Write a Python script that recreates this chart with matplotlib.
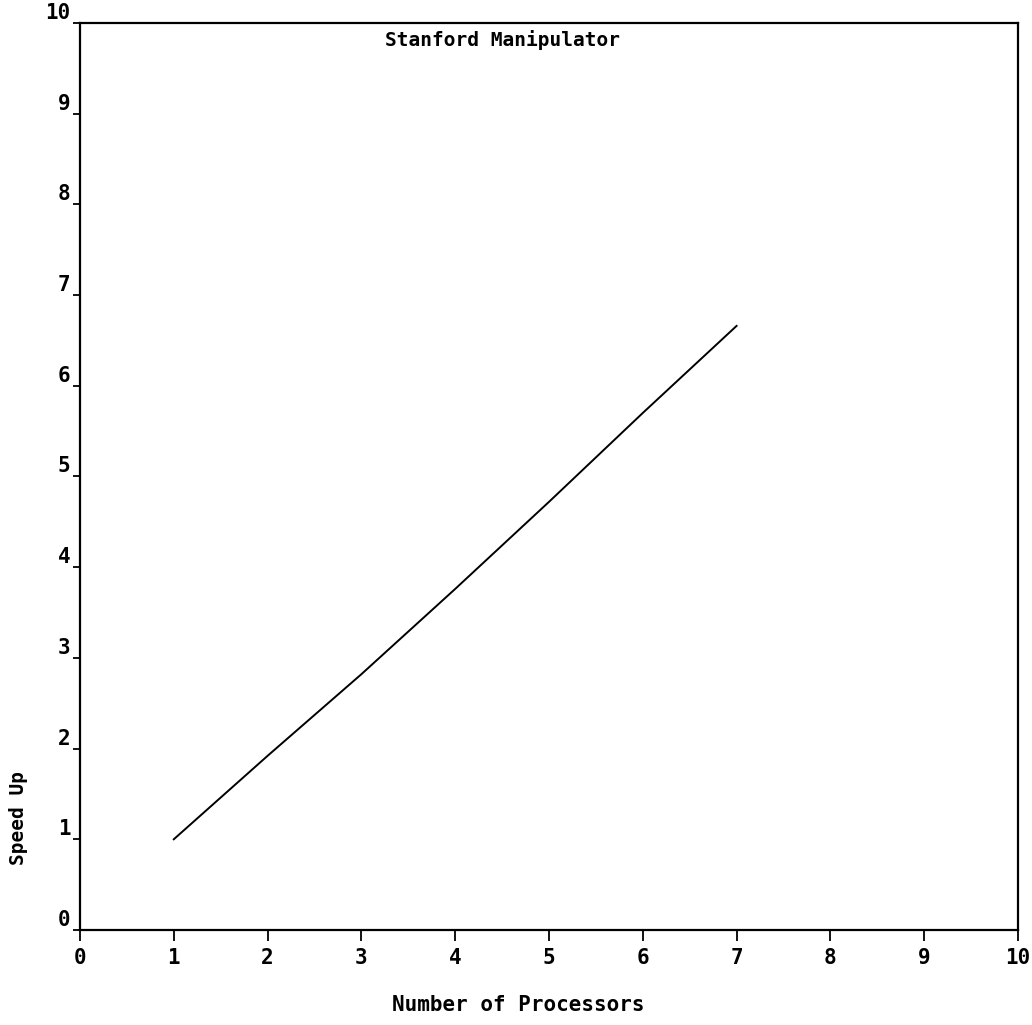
import matplotlib
matplotlib.use("Agg")
import matplotlib.pyplot as plt

# speed-up vs. processor count
processors = [1, 2, 3, 4, 5, 6, 7]
speed_up = [1.0, 1.92, 2.82, 3.76, 4.72, 5.70, 6.66]
ticks = list(range(0, 11))

FONT = "DejaVu Sans Mono"

fig = plt.figure(figsize=(10.32, 10.25), dpi=100)
ax = fig.add_axes([0.0775, 0.0927, 0.9089, 0.8849])

ax.plot(processors, speed_up, color="black", lw=1.4)

ax.set_xlim(0, 10); ax.set_ylim(0, 10)
ax.set_xticks(ticks); ax.set_yticks(ticks)
ax.tick_params(axis="x", direction="out", length=8, width=1.3, pad=5, labelsize=15)
ax.tick_params(axis="y", direction="out", length=5, width=1.3, pad=2, labelsize=15)
for lbl in ax.get_xticklabels() + ax.get_yticklabels():
    lbl.set_fontfamily(FONT); lbl.set_fontweight("bold")
plt.setp(ax.get_yticklabels(), va="bottom")
for s in ax.spines.values():
    s.set_linewidth(1.6)

ax.text(0.45, 0.981, "Stanford Manipulator", transform=ax.transAxes, ha="center", va="center",
        fontsize=14, family=FONT, fontweight="bold")
ax.set_xlabel("Number of Processors", fontsize=15, family=FONT, fontweight="bold", va="top")
ax.xaxis.set_label_coords(0.467, -0.072)
ax.set_ylabel("Speed Up", fontsize=14, family=FONT, fontweight="bold", va="center")
ax.yaxis.set_label_coords(-0.066, 0.123)

fig.savefig("out.png", dpi=100, facecolor="white")
